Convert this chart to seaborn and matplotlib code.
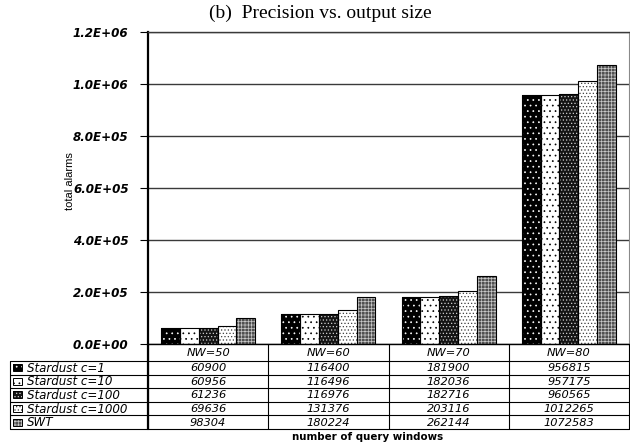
import numpy as np
import pandas as pd
import matplotlib
matplotlib.use("Agg")
import matplotlib.pyplot as plt
import seaborn as sns
from matplotlib.patches import Rectangle
from matplotlib.transforms import Affine2D, blended_transform_factory

# ---- data -------------------------------------------------------------
windows = ["NW=50", "NW=60", "NW=70", "NW=80"]
series = ["Stardust c=1", "Stardust c=10", "Stardust c=100",
          "Stardust c=1000", "SWT"]
c1 = [60900, 116400, 181900, 956815]
c10 = [60956, 116496, 182036, 957175]
c100 = [61236, 116976, 182716, 960565]
c1000 = [69636, 131376, 203116, 1012265]
swt = [98304, 180224, 262144, 1072583]
yticks = [0, 200000, 400000, 600000, 800000, 1000000, 1200000]

values = [c1, c10, c100, c1000, swt]
df = pd.DataFrame({
    "windows": np.repeat([windows], len(series), axis=0).ravel(),
    "series": np.repeat(series, len(windows)),
    "alarms": np.concatenate(values),
})

# face colour, hatch pattern, hatch colour for each series
styles = [
    ("black", "...", "white"),
    ("white", "...", "black"),
    ("#151515", ".....", "#d0d0d0"),
    ("white", ".....", "#404040"),
    ("#505050", "+++++", "#c8c8c8"),
]

W, H = 630, 443
sns.set_theme(style="white")
plt.rcParams["font.family"] = ["DejaVu Sans"]
plt.rcParams["hatch.linewidth"] = 0.5
plt.rcParams["text.color"] = "black"
plt.rcParams["ytick.color"] = "black"
plt.rcParams["ytick.labelcolor"] = "black"

fig = plt.figure(figsize=(W / 100, H / 100), dpi=100)
ax = fig.add_axes([148 / W, 1 - 344 / H, (629 - 148) / W, (344 - 32) / H])

sns.barplot(data=df, x="windows", y="alarms", hue="series",
            hue_order=series, order=windows, width=0.78, ax=ax,
            legend=False, saturation=1)

for cont, (fc, hatch, hc) in zip(ax.containers, styles):
    for bar in cont:
        bar.set_facecolor(fc)
        bar.set_hatch(hatch)
        bar.set_edgecolor(hc)
        bar.set_linewidth(0)
        ax.add_patch(Rectangle(bar.get_xy(), bar.get_width(), bar.get_height(),
                               fill=False, edgecolor="black", lw=0.8, zorder=3))

ax.set_ylim(0, 1200000)
ax.set_xlim(-0.5, 3.5)
ax.set_yticks(yticks)
ax.set_yticklabels(["{:.1E}".format(v) for v in yticks],
                   fontsize=8.6, fontweight="bold", fontstyle="italic",
                   color="black")
ax.yaxis.grid(True, color="#3a3a3a", lw=1.0)
ax.set_axisbelow(True)
ax.tick_params(axis="y", direction="out", length=6, width=0.8,
               color="black", pad=8, left=True)
ax.tick_params(axis="x", length=0, labelbottom=False)
ax.set_xlabel("")
ax.set_ylabel("")
for side in ax.spines:
    ax.spines[side].set_visible(True)
ax.spines["left"].set_linewidth(1.6)
ax.spines["left"].set_color("black")
ax.spines["bottom"].set_linewidth(1.0)
ax.spines["bottom"].set_color("black")
ax.spines["top"].set_linewidth(1.0)
ax.spines["top"].set_color("#3a3a3a")
ax.spines["right"].set_linewidth(0.8)
ax.spines["right"].set_color("#8a8a8a")

# ---- data table below the axes ---------------------------------------
pix = Affine2D().scale(1 / W, -1 / H).translate(0, 1) + fig.transFigure
colx = blended_transform_factory(ax.transData, pix)

top, head_bot, bottom = 344, 361, 429
row_h = (bottom - head_bot) / len(series)
tbl_left, lab_right = 10, 148

line_kw = dict(color="black", lw=0.8, clip_on=False)
# vertical separators between value columns
for i in range(len(windows) + 1):
    fig.add_artist(plt.Line2D([i - 0.5, i - 0.5], [top, bottom],
                              transform=colx, **line_kw))
# label column outline
fig.add_artist(plt.Line2D([tbl_left, tbl_left], [head_bot, bottom],
                          transform=pix, **line_kw))
fig.add_artist(plt.Line2D([lab_right, lab_right], [top, bottom],
                          transform=pix, color="black", lw=1.6))
# horizontal rules
for k in range(len(series) + 1):
    y = head_bot + k * row_h
    fig.add_artist(plt.Line2D([tbl_left, 629], [y, y], transform=pix, **line_kw))

txt_kw = dict(fontsize=8.2, fontstyle="italic", ha="center", va="center")
for i, w in enumerate(windows):
    fig.text(i, (top + head_bot) / 2 + 0.5, w, transform=colx, **txt_kw)

for r, (name, vals, (fc, hatch, hc)) in enumerate(zip(series, values, styles)):
    yc = head_bot + (r + 0.5) * row_h
    key = Rectangle((13, yc + 3.5), 9, -7, transform=pix, facecolor=fc,
                    hatch=hatch, edgecolor=hc, lw=0)
    fig.add_artist(key)
    fig.add_artist(Rectangle((13, yc + 3.5), 9, -7, transform=pix, fill=False,
                             edgecolor="black", lw=0.7))
    fig.text(27, yc + 0.5, name, transform=pix, fontsize=8.6,
             fontstyle="italic", ha="left", va="center")
    for i, v in enumerate(vals):
        fig.text(i, yc + 0.5, str(v), transform=colx, **txt_kw)

fig.text(70, 181, "total alarms", transform=pix, rotation=90,
         fontsize=8, family="Liberation Sans", ha="center", va="center")
fig.text(368, 437, "number of query windows", transform=pix,
         fontsize=7.4, fontweight="bold", ha="center", va="center")
fig.text(320, 13, "(b)  Precision vs. output size", transform=pix,
         fontsize=14, family="Liberation Serif", ha="center", va="center")

fig.savefig("out.png", dpi=100)
